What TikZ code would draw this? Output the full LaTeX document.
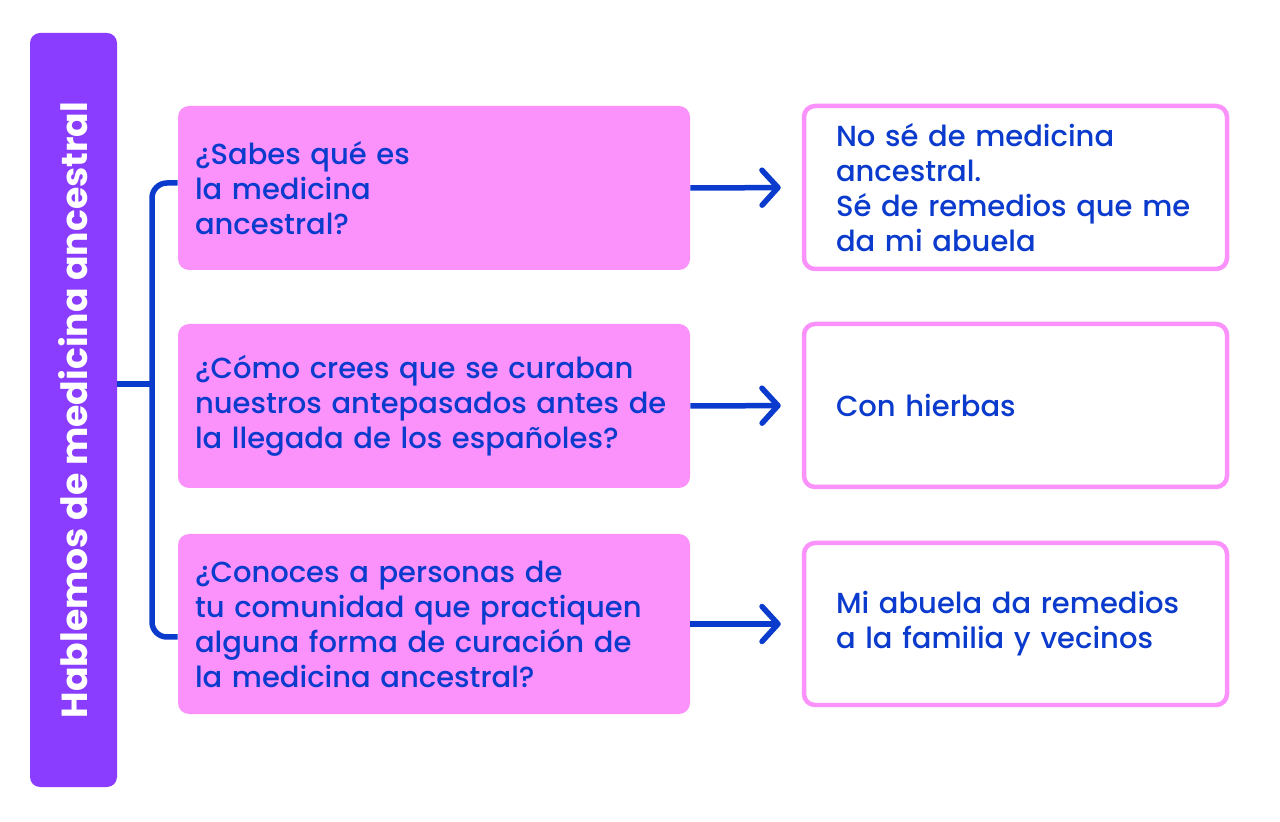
\documentclass[tikz,border=0pt]{standalone}
\usepackage{fontspec}
\setmainfont{Poppins}[UprightFont=* Medium,BoldFont=* Bold]
\usepackage{xcolor}
\usepackage{tikz}
\usetikzlibrary{arrows.meta,positioning}
\definecolor{barpurple}{HTML}{8A3DFF}
\definecolor{boxpink}{HTML}{FB92FC}
\definecolor{inkblue}{HTML}{0B3BCD}

\begin{document}
\begin{tikzpicture}[transform shape,scale=1,
	titlebox/.style={fill=barpurple,rounded corners=0.2cm,text=white,font=\fontsize{20.6}{24}\selectfont\bfseries,rotate=90,minimum width=15.08cm,minimum height=1.74cm,inner sep=0pt},
	qbox/.style={fill=boxpink,rounded corners=0.22cm,text=inkblue,font=\fontsize{16.5}{19.9}\selectfont,align=left,text width=9.56cm,minimum width=10.24cm,inner xsep=0.34cm,inner ysep=0.2cm},
	abox/.style={draw=boxpink,line width=0.09cm,fill=white,rounded corners=0.22cm,text=inkblue,font=\fontsize{16.5}{19.9}\selectfont,align=left,text width=7.18cm,minimum width=8.46cm,inner xsep=0.64cm,inner ysep=0.2cm},
	link/.style={inkblue,line width=0.11cm},
	arrow/.style={link,-{Straight Barb[length=0.32cm,width=0.7cm,line cap=round,line join=round]},shorten >=0.42cm}]
		\useasboundingbox (0,0) rectangle (25.6,16.42);
		\node[titlebox] (title) at (1.47,8.22) {Hablemos de medicina ancestral};
		% preguntas
		\node[qbox,minimum height=3.28cm] (q1) at (8.68,12.66) {¿Sabes qué es\\la medicina\\ancestral?};
		\node[qbox,minimum height=3.28cm] (q2) at (8.68,8.30) {¿Cómo crees que se curaban\\nuestros antepasados antes de\\la llegada de los españoles?};
		\node[qbox,minimum height=3.6cm] (q3) at (8.68,3.94) {¿Conoces a personas de\\tu comunidad que practiquen\\alguna forma de curación de\\la medicina ancestral?};
		% respuestas
		\node[abox,minimum height=3.26cm] (a1) at (20.31,12.67) {No sé de medicina\\ancestral.\\Sé de remedios que me\\da mi abuela};
		\node[abox,minimum height=3.26cm] (a2) at (20.31,8.31) {Con hierbas};
		\node[abox,minimum height=3.24cm] (a3) at (20.31,3.94) {Mi abuela da remedios\\a la familia y vecinos};
		% llave
		\coordinate (brk) at (3.04,8.74);
		\draw[link,rounded corners=0.3cm] ([yshift=0.1cm]q1.west) -| (brk) |- ([yshift=-0.26cm]q3.west);
		\draw[link] (title.south |- brk) -- (brk);
		\draw[arrow] (q1.east) -- (a1.west);
		\draw[arrow] (q2.east) -- (a2.west);
		\draw[arrow] (q3.east) -- (a3.west);
	\end{tikzpicture}
\end{document}
